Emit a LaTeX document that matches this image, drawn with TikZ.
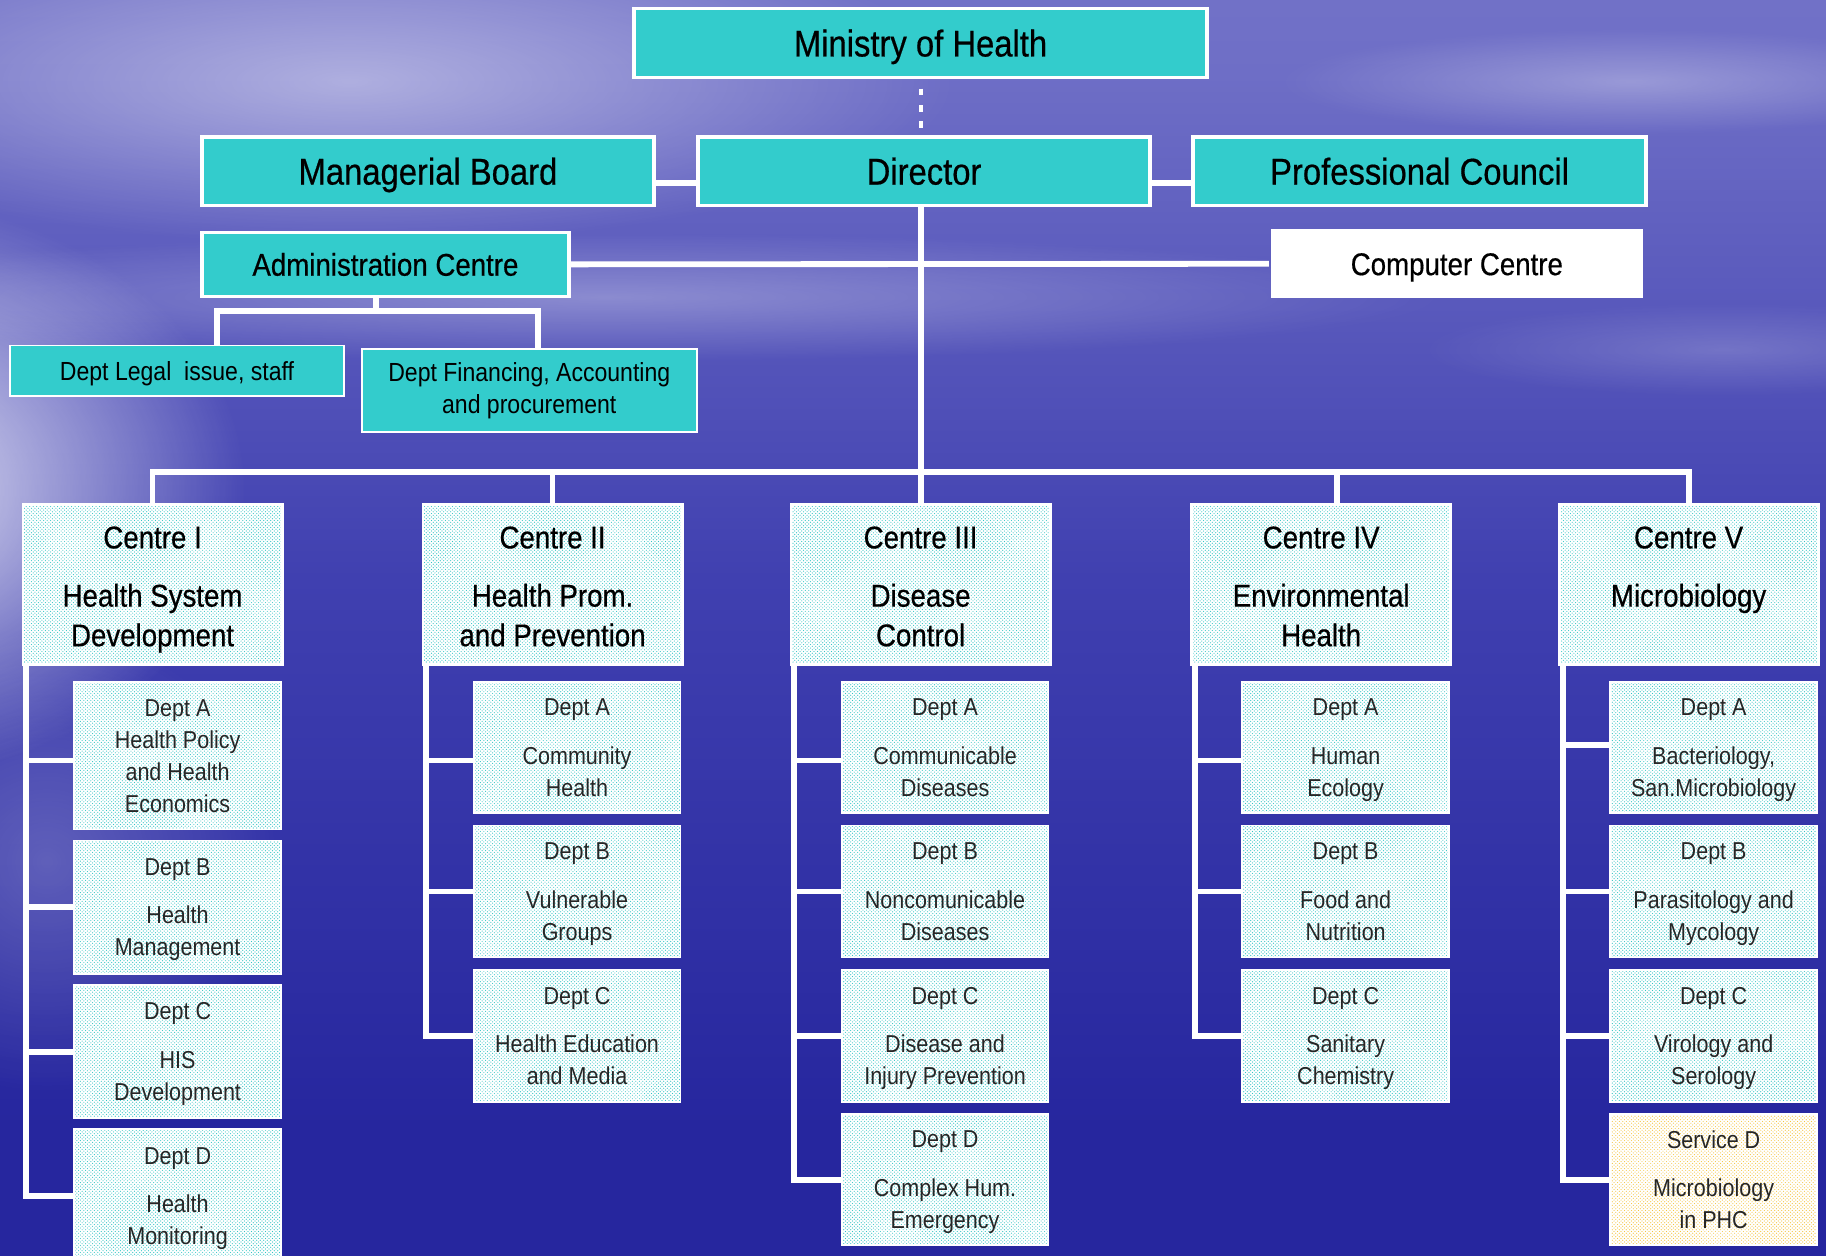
\documentclass[tikz,border=0pt]{standalone}
\usepackage{fontspec}
\setmainfont{Liberation Sans}[FakeStretch=0.88]
\newfontfamily\headfont{Liberation Sans}[FakeStretch=0.88, FakeBold=0.5]
\usetikzlibrary{patterns,fadings}
\definecolor{tealbox}{HTML}{33CCCC}
\definecolor{dotteal}{HTML}{33C6C6}
\definecolor{dotyel}{HTML}{F5C540}
\definecolor{bgtop}{HTML}{8C8CD4}
\definecolor{bgmid}{HTML}{6E6EC6}
\definecolor{bgmid2}{HTML}{4040B0}
\definecolor{bgbot}{HTML}{26269E}
\pgfdeclareverticalshading{skysea}{100bp}{color(0bp)=(bgbot); color(30bp)=(bgbot); color(52bp)=(bgmid2); color(72bp)=(bgmid); color(100bp)=(bgtop)}
\tikzfading[name=glowfade, inner color=transparent!0, outer color=transparent!100]
\pgfdeclarelayer{bglayer}
\pgfdeclarelayer{linelayer}
\pgfsetlayers{bglayer,linelayer,main}
\newcommand{\toplift}{\rule{0pt}{21.8pt}}
\newcommand{\lastln}[1]{\smash{#1}}
\tikzset{
  topbox/.style={rectangle, fill=tealbox, draw=white, line width=3pt, inner sep=0pt,
    font=\headfont\fontsize{32}{38}\selectfont, text=black, text height=23pt, text depth=0pt},
  admbox/.style={topbox, font=\headfont\fontsize{27}{32}\selectfont, text height=19.5pt},
  subbox/.style={rectangle, fill=tealbox, draw=white, line width=1.5pt, inner sep=0pt,
    align=center, font=\fontsize{22.5}{27}\selectfont, text=black},
  centrebox/.style={rectangle, preaction={fill=white}, pattern=crosshatch dots, pattern color=dotteal,
    draw=white, line width=2.5pt, inner sep=0pt, minimum width=222.5pt, minimum height=137.5pt,
    align=center, font=\headfont\fontsize{27}{34}\selectfont, text=black},
  deptbox/.style={rectangle, preaction={fill=white}, pattern=crosshatch dots, pattern color=dotteal,
    draw=white, line width=1.5pt, inner sep=0pt, minimum width=177.5pt,
    align=center, font=\fontsize{21}{27.5}\selectfont, text=black!85},
  servbox/.style={deptbox, pattern color=dotyel},
  conn/.style={draw=white, line width=5pt},
}
\begin{document}
\begin{tikzpicture}[x=1pt,y=-1pt]
\clip (0,0) rectangle (1568,1078.5);
\begin{pgfonlayer}{bglayer}
  \shade[shading=skysea] (0,0) rectangle (1568,1078.5);
  \fill[white, path fading=glowfade, opacity=0.9] (-120,420) ellipse (330pt and 250pt);
  \fill[white, path fading=glowfade, opacity=0.45] (300,70) ellipse (520pt and 140pt);
  \fill[white, path fading=glowfade, opacity=0.30] (520,255) ellipse (720pt and 55pt);
  \fill[white, path fading=glowfade, opacity=0.30] (1400,70) ellipse (300pt and 45pt);
  \fill[white, path fading=glowfade, opacity=0.18] (1480,300) ellipse (260pt and 40pt);
  \fill[white, path fading=glowfade, opacity=0.22] (40,740) ellipse (200pt and 200pt);
\end{pgfonlayer}

% top level
\node[topbox, minimum width=492pt, minimum height=59pt] (mh) at (790.5,37) {Ministry of Health};
\node[topbox, minimum width=388pt, minimum height=59pt] (mb) at (367.5,147) {Managerial Board};
\node[topbox, minimum width=388pt, minimum height=59pt] (dir) at (793.5,147) {Director};
\node[topbox, minimum width=389pt, minimum height=59pt] (pc) at (1219,147) {Professional Council};
\node[admbox, minimum width=315pt, minimum height=55pt] (adm) at (331,227) {Administration Centre};
\node[admbox, draw=none, fill=white, minimum width=320pt, minimum height=59pt] (comp) at (1251,226.5) {Computer Centre};
\node[subbox, minimum width=286.5pt, minimum height=43.5pt, text height=16pt, text depth=0pt] (legal) at (152,318.5) {Dept Legal\ \ issue, staff};
\node[subbox, minimum width=287.5pt, minimum height=71.5pt] (fin) at (454.5,335.5) {Dept Financing, Accounting\\and procurement};

% centres
\node[centrebox] (c1) at (131,502) {\toplift Centre I\\[16pt]Health System\\\lastln{Development}};
\node[centrebox] (c2) at (474.5,502) {\toplift Centre II\\[16pt]Health Prom.\\\lastln{and Prevention}};
\node[centrebox] (c3) at (790.5,502) {\toplift Centre III\\[16pt]Disease\\\lastln{Control}};
\node[centrebox] (c4) at (1134.5,502) {\toplift Centre IV\\[16pt]Environmental\\\lastln{Health}};
\node[centrebox] (c5) at (1450,502) {\toplift Centre V\\[16pt]Microbiology\\\mbox{}};

% centre I departments
\node[deptbox, minimum height=126.5pt] (d1a) at (152.5,649) {Dept A\\Health Policy\\and Health\\\lastln{Economics}};
\node[deptbox, minimum height=114.5pt] (d1b) at (152.5,779) {Dept B\\[14pt]Health\\\lastln{Management}};
\node[deptbox, minimum height=114.5pt] (d1c) at (152.5,903) {Dept C\\[14pt]HIS\\\lastln{Development}};
\node[deptbox, minimum height=114.5pt] (d1d) at (152.5,1027) {Dept D\\[14pt]Health\\\lastln{Monitoring}};
% centre II departments
\node[deptbox, minimum height=112.5pt] (d2a) at (495.5,642) {Dept A\\[14pt]Community\\\lastln{Health}};
\node[deptbox, minimum height=113.5pt] (d2b) at (495.5,765.5) {Dept B\\[14pt]Vulnerable\\\lastln{Groups}};
\node[deptbox, minimum height=113.5pt] (d2c) at (495.5,889.5) {Dept C\\[14pt]Health Education\\\lastln{and Media}};
% centre III departments
\node[deptbox, minimum height=112.5pt] (d3a) at (811.5,642) {Dept A\\[14pt]Communicable\\\lastln{Diseases}};
\node[deptbox, minimum height=113.5pt] (d3b) at (811.5,765.5) {Dept B\\[14pt]Noncomunicable\\\lastln{Diseases}};
\node[deptbox, minimum height=113.5pt] (d3c) at (811.5,889.5) {Dept C\\[14pt]Disease and\\\lastln{Injury Prevention}};
\node[deptbox, minimum height=112.5pt] (d3d) at (811.5,1013) {Dept D\\[14pt]Complex Hum.\\\lastln{Emergency}};
% centre IV departments
\node[deptbox, minimum height=112.5pt] (d4a) at (1155.5,642) {Dept A\\[14pt]Human\\\lastln{Ecology}};
\node[deptbox, minimum height=113.5pt] (d4b) at (1155.5,765.5) {Dept B\\[14pt]Food and\\\lastln{Nutrition}};
\node[deptbox, minimum height=113.5pt] (d4c) at (1155.5,889.5) {Dept C\\[14pt]Sanitary\\\lastln{Chemistry}};
% centre V departments
\node[deptbox, minimum height=112.5pt] (d5a) at (1471.5,642) {Dept A\\[14pt]Bacteriology,\\\lastln{San.Microbiology}};
\node[deptbox, minimum height=113.5pt] (d5b) at (1471.5,765.5) {Dept B\\[14pt]Parasitology and\\\lastln{Mycology}};
\node[deptbox, minimum height=113.5pt] (d5c) at (1471.5,889.5) {Dept C\\[14pt]Virology and\\\lastln{Serology}};
\node[servbox, minimum height=112.5pt] (d5d) at (1471.5,1013) {Service D\\[14pt]Microbiology\\\lastln{in PHC}};

% connectors
\coordinate (bus) at (791,405);
\coordinate (b1) at (131,405);
\coordinate (b4) at (1148,405);
\coordinate (b5) at (1450,405);
\coordinate (aj) at (323,267);
\coordinate (ajl) at (186,267);
\coordinate (ajr) at (462,267);
\coordinate (v1) at (22,570);
\coordinate (v2) at (366,570);
\coordinate (v3) at (682,570);
\coordinate (v4) at (1026,570);
\coordinate (v5) at (1342,570);
\coordinate (a1) at (22,653);
\coordinate (a2) at (366,653);
\coordinate (a3) at (682,653);
\coordinate (a4) at (1026,653);
\coordinate (a5) at (1342,640);
\begin{pgfonlayer}{linelayer}
  \draw[white, line width=3.5pt, dash pattern=on 6pt off 8pt, dash phase=6pt] (mh.south -| bus) -- (dir.north -| bus);
  \draw[conn] ([yshift=-10pt]mb.east) -- ([yshift=-10pt]dir.west);
  \draw[conn] ([yshift=-10pt]dir.east) -- ([yshift=-10pt]pc.west);
  \draw[conn] (dir.south -| bus) -- (bus);
  \draw[conn] (adm.east) -- (comp.west);
  \draw[conn] (adm.south -| aj) -- (aj);
  \draw[conn] (legal.north -| ajl) -- (ajl) -- (ajr) -- (fin.north -| ajr);
  \draw[conn] (c1.north -| b1) -- (b1) -- (b5) -- (c5.north -| b5);
  \draw[conn] (bus -| c2.north) -- (c2.north);
  \draw[conn] (bus) -- (c3.north -| bus);
  \draw[conn] (b4) -- (c4.north -| b4);
  % centre I
  \draw[conn] (v1) |- (d1d.west);
  \draw[conn] (a1) -- (a1 -| d1a.west);
  \draw[conn] (v1 |- d1b.west) -- (d1b.west);
  \draw[conn] (v1 |- d1c.west) -- (d1c.west);
  % centre II
  \draw[conn] (v2) |- (d2c.west);
  \draw[conn] (a2) -- (a2 -| d2a.west);
  \draw[conn] (v2 |- d2b.west) -- (d2b.west);
  % centre III
  \draw[conn] (v3) |- (d3d.west);
  \draw[conn] (a3) -- (a3 -| d3a.west);
  \draw[conn] (v3 |- d3b.west) -- (d3b.west);
  \draw[conn] (v3 |- d3c.west) -- (d3c.west);
  % centre IV
  \draw[conn] (v4) |- (d4c.west);
  \draw[conn] (a4) -- (a4 -| d4a.west);
  \draw[conn] (v4 |- d4b.west) -- (d4b.west);
  % centre V
  \draw[conn] (v5) |- (d5d.west);
  \draw[conn] (a5) -- (a5 -| d5a.west);
  \draw[conn] (v5 |- d5b.west) -- (d5b.west);
  \draw[conn] (v5 |- d5c.west) -- (d5c.west);
\end{pgfonlayer}
\end{tikzpicture}
\end{document}
